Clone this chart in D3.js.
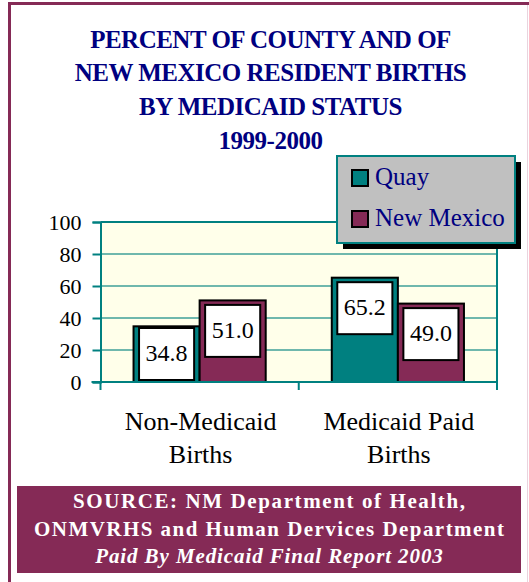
<!DOCTYPE html>
<html>
<head>
<meta charset="utf-8">
<script src="https://cdn.jsdelivr.net/npm/d3@7"></script>
<style>
  html, body { margin: 0; padding: 0; background: #fff; }
</style>
</head>
<body>
<div id="chart"></div>
<script>
// data
var categories = ["Non-Medicaid Births", "Medicaid Paid Births"];
var seriesNames = ["Quay", "New Mexico"];
var quayValues = [34.8, 65.2];
var newMexicoValues = [51.0, 49.0];
var yTicks = [0, 20, 40, 60, 80, 100];
var titleLines = ["PERCENT OF COUNTY AND OF", "NEW MEXICO RESIDENT BIRTHS", "BY MEDICAID STATUS", "1999-2000"];
var sourceLines = ["SOURCE:  NM Department of Health,", "ONMVRHS and Human Dervices Department", "Paid By Medicaid Final Report 2003"];

var W = 529, H = 582;
var FONT = "'Liberation Serif'";
var TEAL = "#008080", MAROON = "#852A56", NAVY = "#000080";
var colors = [TEAL, MAROON];
var plot = {left: 100.5, right: 497, top: 222, bottom: 382};

var svg = d3.select("#chart").append("svg")
    .attr("width", W)
    .attr("height", H)
    .style("display", "block");

// outer frame
svg.append("line").attr("x1", 8).attr("x2", W).attr("y1", 3.5).attr("y2", 3.5)
    .attr("stroke", MAROON).attr("stroke-width", 3);
svg.append("line").attr("x1", 9.5).attr("x2", 9.5).attr("y1", 2).attr("y2", H)
    .attr("stroke", MAROON).attr("stroke-width", 3);
svg.append("line").attr("x1", 527.5).attr("x2", 527.5).attr("y1", 5).attr("y2", H)
    .attr("stroke", "#ead3de").attr("stroke-width", 1);

// title
var titleY = [48, 81, 115, 149];
svg.append("g").selectAll("text")
    .data(titleLines)
    .enter().append("text")
    .attr("x", 270.5)
    .attr("y", function(d, i) { return titleY[i]; })
    .attr("text-anchor", "middle")
    .attr("fill", NAVY)
    .style("font-family", FONT)
    .style("font-size", "25px")
    .style("font-weight", "bold")
    .style("letter-spacing", "-0.5px")
    .text(function(d) { return d; });

// scales
var x = d3.scaleBand().domain(categories).range([plot.left, plot.right]);
var xInner = d3.scaleBand().domain(seriesNames).range([0, x.bandwidth()])
    .paddingInner(0).paddingOuter(0.5);
var y = d3.scaleLinear().domain([0, 100]).range([plot.bottom, plot.top]);

// plot background
svg.append("rect")
    .attr("x", plot.left).attr("y", plot.top)
    .attr("width", plot.right - plot.left).attr("height", plot.bottom - plot.top)
    .attr("fill", "#FFFFEA");

// gridlines
svg.append("g").selectAll("line")
    .data(yTicks.filter(function(d) { return d > 0 && d < 100; }))
    .enter().append("line")
    .attr("x1", plot.left).attr("x2", plot.right)
    .attr("y1", function(d) { return y(d); }).attr("y2", function(d) { return y(d); })
    .attr("stroke", "#6fb8ad").attr("stroke-width", 2);

// plot border (top and right)
svg.append("path")
    .attr("d", "M" + plot.left + "," + y(100) + "H" + plot.right + "V" + plot.bottom)
    .attr("fill", "none").attr("stroke", TEAL).attr("stroke-width", 2);

// y axis
var yAxis = svg.append("g")
    .attr("transform", "translate(" + plot.left + ",0)")
    .call(d3.axisLeft(y).tickValues(yTicks).tickSize(8).tickPadding(11));
yAxis.attr("font-family", null).attr("font-size", null);
yAxis.select(".domain").attr("stroke", TEAL).attr("stroke-width", 2);
yAxis.selectAll(".tick line").attr("stroke", TEAL).attr("stroke-width", 2);
yAxis.selectAll(".tick text").attr("fill", "#000")
    .style("font-family", FONT)
    .style("font-size", "22px");

// bars
var series = [quayValues, newMexicoValues];
var barData = [];
categories.forEach(function(c, ci) {
    seriesNames.forEach(function(s, si) {
        barData.push({cat: c, name: s, value: series[si][ci], idx: si});
    });
});

var bars = svg.append("g").attr("class", "bar-container");
bars.selectAll("rect")
    .data(barData)
    .enter().append("rect")
    .attr("x", function(d) { return x(d.cat) + xInner(d.name); })
    .attr("y", function(d) { return y(d.value); })
    .attr("width", xInner.bandwidth())
    .attr("height", function(d) { return plot.bottom - y(d.value); })
    .attr("fill", function(d) { return colors[d.idx]; })
    .attr("stroke", "#000")
    .attr("stroke-width", 2);

// value label boxes
var boxW = xInner.bandwidth() - 11, boxH = 52;
function boxTop(d) { return Math.min(y(d.value) + 4.5, plot.bottom - 2 - boxH); }
var labels = svg.append("g");
labels.selectAll("rect")
    .data(barData)
    .enter().append("rect")
    .attr("x", function(d) { return x(d.cat) + xInner(d.name) + 5.5; })
    .attr("y", boxTop)
    .attr("width", boxW)
    .attr("height", boxH)
    .attr("fill", "#fff")
    .attr("stroke", "#000")
    .attr("stroke-width", 2);
labels.selectAll("text")
    .data(barData)
    .enter().append("text")
    .attr("x", function(d) { return x(d.cat) + xInner(d.name) + xInner.bandwidth() / 2; })
    .attr("y", function(d) { return boxTop(d) + 33; })
    .attr("text-anchor", "middle")
    .style("font-family", FONT)
    .style("font-size", "24px")
    .text(function(d) { return d3.format(".1f")(d.value); });

// bottom axis line and ticks at band edges
svg.append("line")
    .attr("x1", plot.left - 9).attr("x2", plot.right)
    .attr("y1", plot.bottom).attr("y2", plot.bottom)
    .attr("stroke", TEAL).attr("stroke-width", 2);
var edges = [plot.left].concat(categories.map(function(c) { return x(c) + x.bandwidth(); }));
svg.append("g").selectAll("line")
    .data(edges)
    .enter().append("line")
    .attr("x1", function(d) { return d; }).attr("x2", function(d) { return d; })
    .attr("y1", plot.bottom).attr("y2", plot.bottom + 8)
    .attr("stroke", TEAL).attr("stroke-width", 2);

// category labels, split onto two lines
var catRows = [];
categories.forEach(function(c) {
    var cut = c.lastIndexOf(" ");
    catRows.push({cat: c, text: c.slice(0, cut), row: 0});
    catRows.push({cat: c, text: c.slice(cut + 1), row: 1});
});
svg.append("g").selectAll("text")
    .data(catRows)
    .enter().append("text")
    .attr("x", function(d) { return x(d.cat) + x.bandwidth() / 2 + 1; })
    .attr("y", function(d) { return 430 + d.row * 33; })
    .attr("text-anchor", "middle")
    .style("font-family", FONT)
    .style("font-size", "26px")
    .text(function(d) { return d.text; });

// legend
var legend = svg.append("g").attr("transform", "translate(337,156)");
legend.append("rect")
    .attr("x", 6).attr("y", 6).attr("width", 178).attr("height", 87)
    .attr("fill", "#000");
legend.append("rect")
    .attr("x", 0).attr("y", 0).attr("width", 178).attr("height", 87)
    .attr("fill", "#c0c0c0").attr("stroke", TEAL).attr("stroke-width", 2);
var li = legend.selectAll(".legend-item")
    .data(seriesNames)
    .enter().append("g")
    .attr("class", "legend-item")
    .attr("transform", function(d, i) { return "translate(15," + (14 + i * 41) + ")"; });
li.append("rect")
    .attr("width", 16).attr("height", 16)
    .attr("fill", function(d, i) { return colors[i]; })
    .attr("stroke", "#000").attr("stroke-width", 2);
li.append("text")
    .attr("x", 23).attr("y", 15)
    .attr("fill", NAVY)
    .style("font-family", FONT)
    .style("font-size", "25px")
    .text(function(d) { return d; });

// source box
svg.append("rect")
    .attr("x", 17).attr("y", 486).attr("width", 504).attr("height", 87)
    .attr("fill", MAROON);
var sourceY = [508, 535.5, 563];
var sourceSpacing = [1.6, 1.45, 0.9];
svg.append("g").selectAll("text")
    .data(sourceLines)
    .enter().append("text")
    .attr("x", function(d, i) { return 269 + sourceSpacing[i] / 2; })
    .attr("y", function(d, i) { return sourceY[i]; })
    .attr("text-anchor", "middle")
    .attr("fill", "#fff")
    .style("font-family", FONT)
    .style("font-size", "21px")
    .style("font-weight", "bold")
    .style("font-style", function(d, i) { return i === 2 ? "italic" : "normal"; })
    .style("letter-spacing", function(d, i) { return sourceSpacing[i] + "px"; })
    .text(function(d) { return d; });
</script>
</body>
</html>
